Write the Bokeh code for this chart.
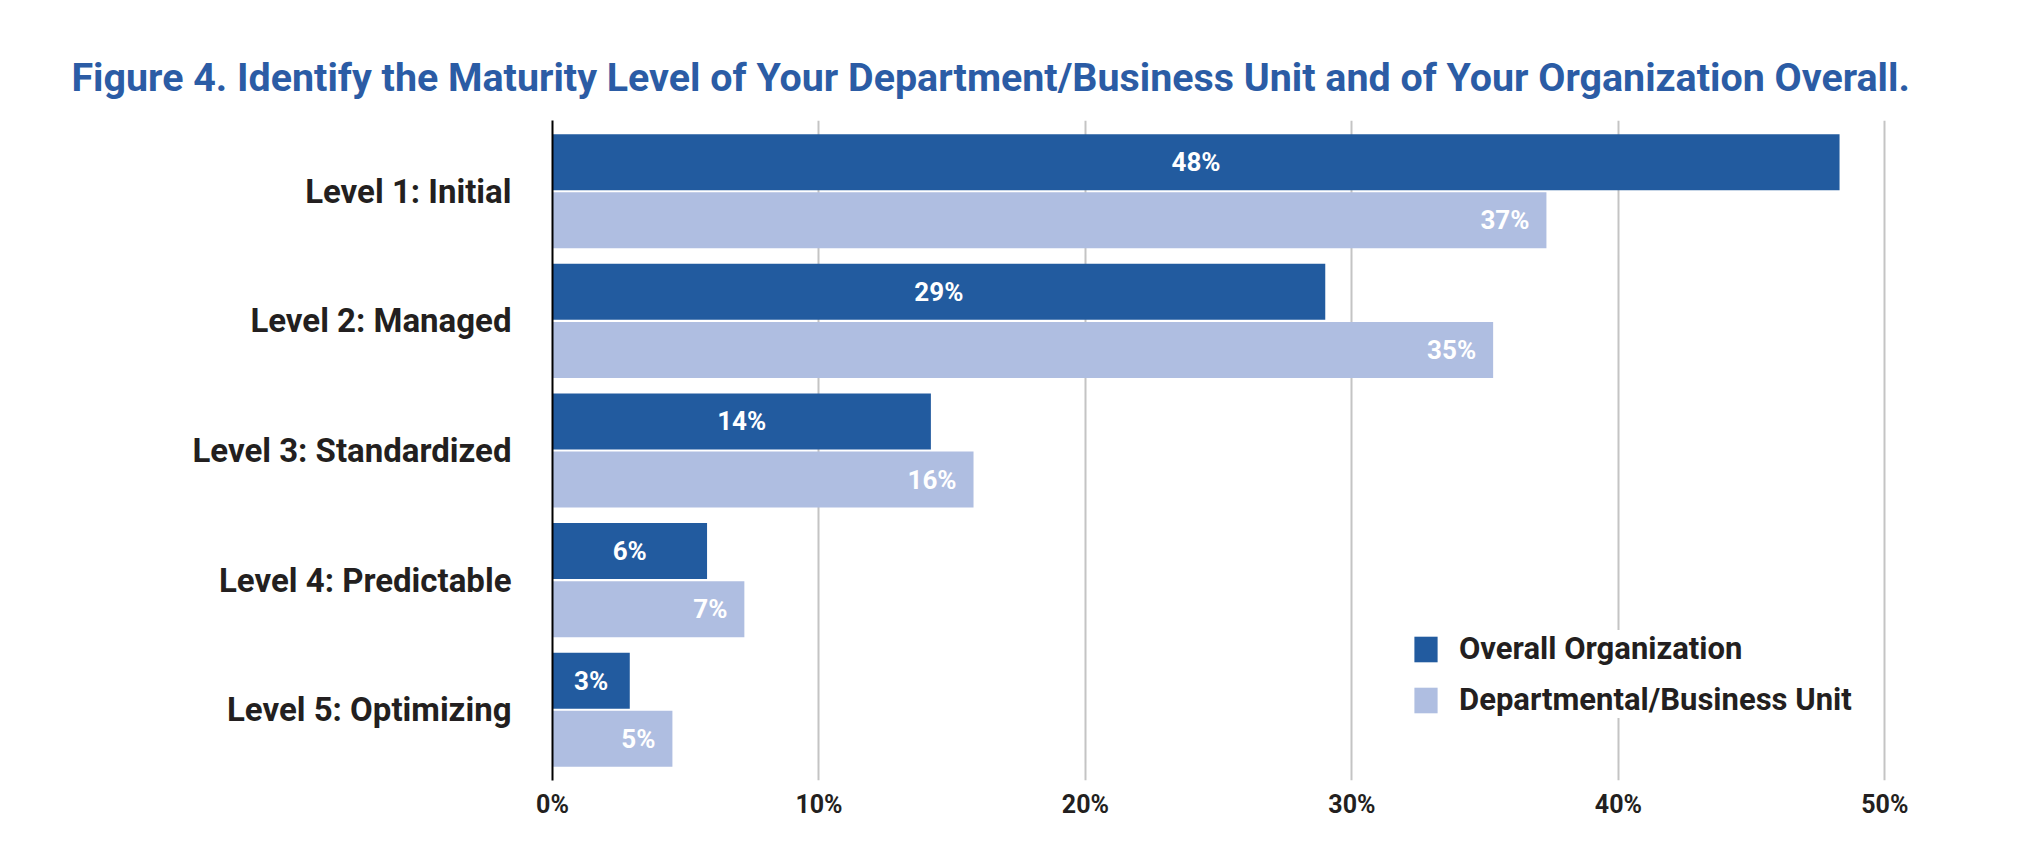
from bokeh.plotting import figure
from bokeh.models import ColumnDataSource, FactorRange, Range1d, Legend, LegendItem, FixedTicker
from bokeh.transform import dodge
from bokeh.core.properties import value
from bokeh.embed import file_html
from bokeh.resources import INLINE

levels = ["Level 1: Initial", "Level 2: Managed", "Level 3: Standardized",
          "Level 4: Predictable", "Level 5: Optimizing"]
overall = [48.3, 29.0, 14.2, 5.8, 2.9]
departmental = [37.3, 35.3, 15.8, 7.2, 4.5]
overall_labels = ["48%", "29%", "14%", "6%", "3%"]
departmental_labels = ["37%", "35%", "16%", "7%", "5%"]
x_ticks = [0, 10, 20, 30, 40, 50]
x_tick_labels = ["0%", "10%", "20%", "30%", "40%", "50%"]
series_names = ["Overall Organization", "Departmental/Business Unit"]

DARK = "#225B9F"
LIGHT = "#AFBEE1"
TITLE_C = "#2B5CA5"
TEXT_C = "#231F20"
FONT = "Roboto"

src = ColumnDataSource(dict(
    level=levels,
    overall=overall,
    departmental=departmental,
    overall_mid=[v / 2 for v in overall],
    overall_labels=overall_labels,
    departmental_labels=departmental_labels,
))

p = figure(
    y_range=FactorRange(factors=levels[::-1], range_padding=0.046, range_padding_units="absolute"),
    x_range=Range1d(0, 51),
    frame_width=1359, frame_height=660,
    min_border_left=552, min_border_right=85,
    min_border_top=120, min_border_bottom=64,
    output_backend="svg", toolbar_location=None,
    background_fill_color="white", border_fill_color="white",
    outline_line_color=None,
)

p.title.text = "Figure 4. Identify the Maturity Level of Your Department/Business Unit and of Your Organization Overall."
p.title.text_font = FONT
p.title.text_font_size = "39.4px"
p.title.text_font_style = "bold"
p.title.text_color = TITLE_C
p.title.align = "left"
p.title.offset = -481
p.title.standoff = 40

off = 0.224
h = 0.432
r1 = p.hbar(y=dodge("level", off, range=p.y_range), right="overall", left=0, height=h,
            source=src, fill_color=DARK, line_color=None)
r2 = p.hbar(y=dodge("level", -off, range=p.y_range), right="departmental", left=0, height=h,
            source=src, fill_color=LIGHT, line_color=None)

p.text(x="overall_mid", y=dodge("level", off, range=p.y_range), text="overall_labels", source=src,
       text_color="white", text_font=value(FONT), text_font_style="bold", text_font_size="26px",
       text_align="center", text_baseline="middle")
p.text(x="departmental", y=dodge("level", -off, range=p.y_range), text="departmental_labels", source=src,
       x_offset=-17, text_color="white", text_font=value(FONT), text_font_style="bold",
       text_font_size="26px", text_align="right", text_baseline="middle")

# grid
p.ygrid.grid_line_color = None
p.xgrid.ticker = FixedTicker(ticks=x_ticks[1:])
p.xgrid.grid_line_color = "#c4c4c4"
p.xgrid.grid_line_width = 2

# x axis
p.xaxis.ticker = FixedTicker(ticks=x_ticks)
p.xaxis.major_label_overrides = {t: l for t, l in zip(x_ticks, x_tick_labels)}
p.xaxis.axis_line_color = None
p.xaxis.major_tick_line_color = None
p.xaxis.minor_tick_line_color = None
p.xaxis.major_label_text_font = FONT
p.xaxis.major_label_text_font_style = "bold"
p.xaxis.major_label_text_font_size = "25px"
p.xaxis.major_label_text_color = TEXT_C
p.xaxis.major_label_standoff = 3

# y axis
p.yaxis.axis_line_color = "black"
p.yaxis.axis_line_width = 2
p.yaxis.major_tick_line_color = None
p.yaxis.minor_tick_line_color = None
p.yaxis.major_label_text_font = FONT
p.yaxis.major_label_text_font_style = "bold"
p.yaxis.major_label_text_font_size = "33px"
p.yaxis.major_label_text_color = TEXT_C
p.yaxis.major_label_standoff = 35

legend = Legend(
    items=[LegendItem(label=series_names[0], renderers=[r1]),
           LegendItem(label=series_names[1], renderers=[r2])],
    location=(859, 62),
    glyph_width=29, glyph_height=32, label_height=26,
    spacing=14, padding=13, margin=0, label_standoff=19,
    label_text_font=FONT, label_text_font_style="bold", label_text_font_size="31px",
    label_text_color=TEXT_C,
    border_line_color=None, background_fill_color="white", background_fill_alpha=1.0,
)
p.add_layout(legend)

open("out.html", "w").write(file_html(p, INLINE))
